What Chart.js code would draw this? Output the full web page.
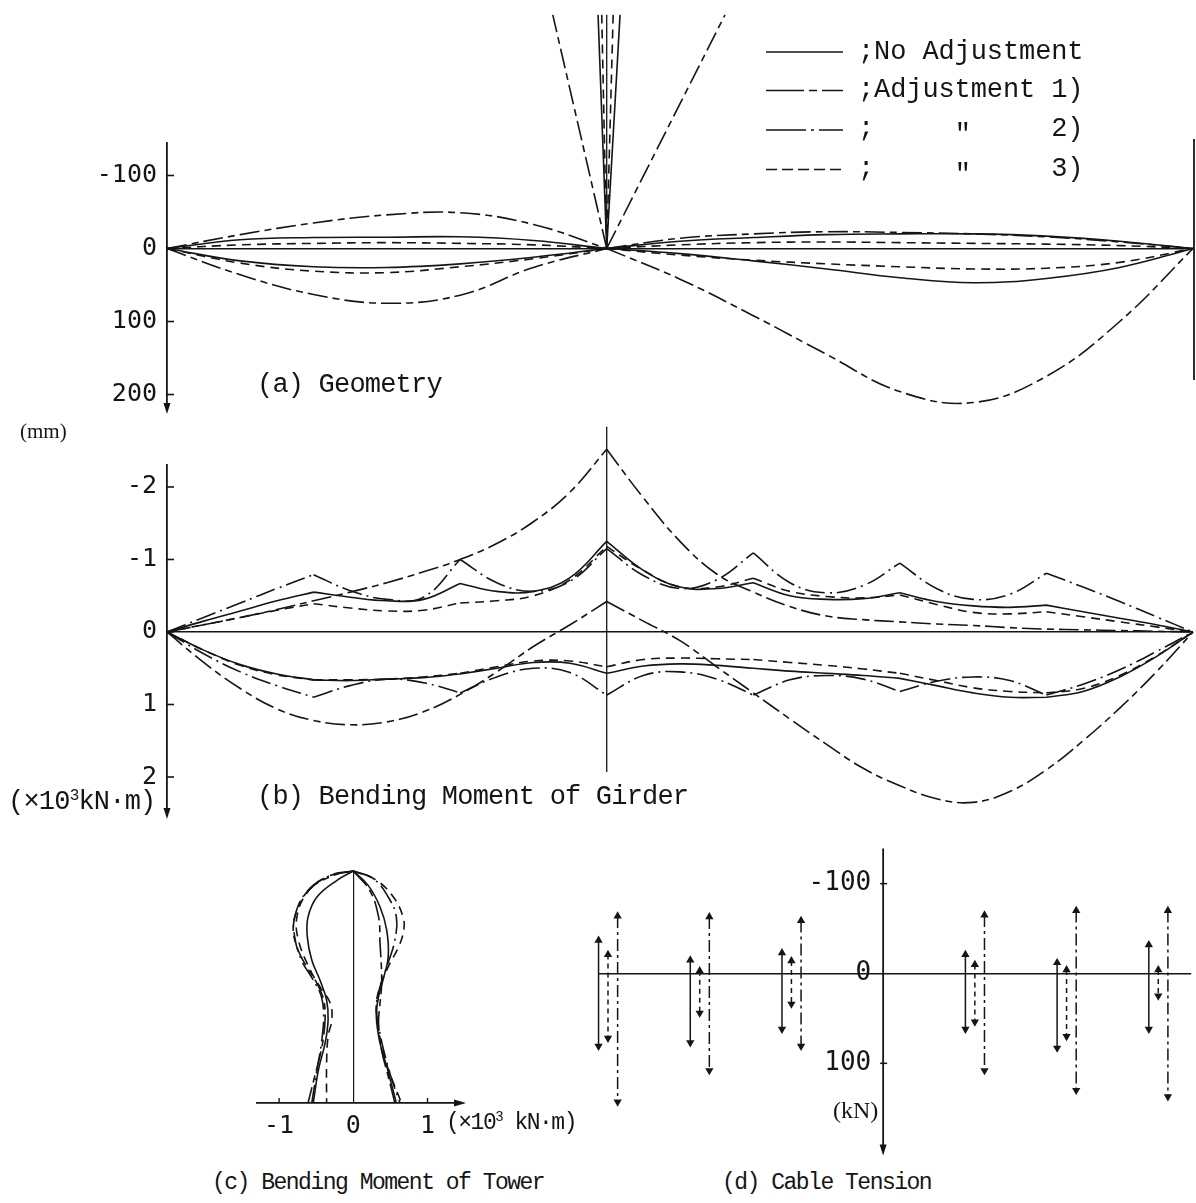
<!DOCTYPE html>
<html lang="en">
<head>
<meta charset="UTF-8">
<title>Effect of cable adjustment</title>
<script src="https://cdn.jsdelivr.net/npm/chart.js"></script>
<style>
  body { margin: 0; background: #fff; }
  #page { position: relative; width: 1196px; height: 1203px; overflow: hidden; background: #fff; }
  canvas { position: absolute; }
  .t { position: absolute; font-family: 'Liberation Mono', 'DejaVu Sans Mono', monospace; font-size: 27px; letter-spacing: -0.8px; line-height: 27px; white-space: pre; color: #151515; }
  .t.lg { letter-spacing: -0.1px; }
  .t.sm { font-size: 23px; letter-spacing: -1.5px; line-height: 23px; }
  .s { position: absolute; font-family: 'Liberation Serif', serif; font-size: 26px; line-height: 26px; white-space: pre; color: #151515; }
  .t sup { font-size: 16px; line-height: 0; vertical-align: 9px; }
  .t.sm sup { font-size: 14px; vertical-align: 8px; }
  .dit { position: relative; top: 6px; }
</style>
</head>
<body>
<div id="page">
  <canvas id="geo" width="1196" height="440" style="left:0;top:0"></canvas>
  <canvas id="mom" width="1196" height="420" style="left:0;top:420px"></canvas>
  <canvas id="tow" width="400" height="320" style="left:200px;top:840px"></canvas>
  <canvas id="cab" width="636" height="340" style="left:560px;top:830px"></canvas>

  <div class="t lg" style="left:858px;top:39px">;No Adjustment</div>
  <div class="t lg" style="left:858px;top:77px">;Adjustment 1)</div>
  <div class="t lg" style="left:858px;top:116px">;     <span class="dit">"</span>     2)</div>
  <div class="t lg" style="left:858px;top:156px">;     <span class="dit">"</span>     3)</div>

  <div class="t" style="left:257px;top:372px">(a) Geometry</div>
  <div class="s" style="left:20px;top:421px;font-size:21px;line-height:21px">(mm)</div>
  <div class="t" style="left:257px;top:784px">(b) Bending Moment of Girder</div>
  <div class="t" style="left:8px;top:789px">(×10<sup>3</sup>kN·m)</div>
  <div class="t sm" style="left:212px;top:1172px">(c) Bending Moment of Tower</div>
  <div class="t sm" style="left:446px;top:1112px">(×10<sup>3</sup> kN·m)</div>
  <div class="s" style="left:833px;top:1098px;font-size:24px;line-height:24px">(kN)</div>
  <div class="t sm" style="left:722px;top:1172px">(d) Cable Tension</div>
</div>

<script>
  const INK = '#151515';
  const TICK_FONT = { family: "'DejaVu Sans Mono', monospace", size: 25 };

  // line styles of the four cases
  const DASH = { noAdj: [], adj1: [20, 5, 7, 5], adj2: [20, 5, 2, 5], adj3: [9, 6] };

  // ---------- (a) Geometry : girder deflection in mm (down = +) ----------
  const towerX = 30;                 // deck position of the tower
  const geoTicks = [-100, 0, 100, 200];
  const geoX = [0, 5, 10, 15, 20, 25, 30, 35, 40, 45, 50, 55, 60, 65, 70];
  const geoNoAdjUp  = [0, -12, -15, -15.5, -16, -11, 0, -10, -15, -19, -20, -20, -17, -10, 0];
  const geoNoAdjLow = [0, 17, 25, 26, 21, 12, 0, 7, 17, 28, 40, 47, 41, 26, 0];
  const geoAdj1Up   = [0, -19, -35, -46, -49, -33, 0, -14, -20, -23, -22, -20, -16, -9, 0];
  const geoAdj1Low  = [0, 36, 63, 75, 64, 26, 0, 42, 92, 145, 196, 211, 175, 100, 0];
  const geoAdj3Up   = [0, -5, -7, -8, -7, -5, 0, -5, -8, -9, -8, -7, -6, -4, 0];
  const geoAdj3Low  = [0, 20, 31, 33, 25, 14, 0, 9, 16, 21, 25, 28, 27, 19, 0];
  // tower sway sketch: top ends of the tower lines
  const towerTopY = -320;
  const towerTopNoAdj = [29.41, 30.91];
  const towerTopAdj1 = [26.32, 38.07];
  const towerTopAdj3 = [29.66, 30.44];

  // ---------- (b) Bending moment of girder (x10^3 kN.m) ----------
  const momTicks = [-2, -1, 0, 1, 2];
  const cableAnchors = [10, 20, 30, 40, 50, 60];
  const momX = [0, 2.5, 5, 7.5, 10, 12.5, 15, 17.5, 20, 22.5, 25, 27.5, 30,
                32.5, 35, 37.5, 40, 42.5, 45, 47.5, 50, 52.5, 55, 57.5, 60, 62.5, 65, 67.5, 70];
  const momNoAdjUp  = [0, -0.15, -0.29, -0.43, -0.55, -0.48, -0.43, -0.45, -0.67, -0.56, -0.56, -0.75, -1.25,
                       -0.85, -0.62, -0.6, -0.68, -0.5, -0.45, -0.46, -0.54, -0.42, -0.36, -0.34, -0.37, -0.28, -0.19, -0.1, 0];
  const momNoAdjLow = [0, 0.25, 0.45, 0.58, 0.66, 0.67, 0.65, 0.63, 0.58, 0.5, 0.42, 0.43, 0.57,
                       0.47, 0.44, 0.46, 0.5, 0.54, 0.57, 0.6, 0.64, 0.74, 0.84, 0.9, 0.9, 0.82, 0.62, 0.34, 0];
  const momAdj1Up   = [0, -0.1, -0.2, -0.31, -0.43, -0.55, -0.68, -0.83, -1.0, -1.22, -1.52, -1.93, -2.52,
                       -1.85, -1.25, -0.8, -0.55, -0.35, -0.22, -0.17, -0.14, -0.11, -0.09, -0.06, -0.04, -0.03, -0.02, -0.01, 0];
  const momAdj1Low  = [0, 0.42, 0.78, 1.06, 1.22, 1.28, 1.24, 1.1, 0.86, 0.55, 0.2, -0.1, -0.42,
                       -0.15, 0.12, 0.48, 0.84, 1.2, 1.55, 1.88, 2.12, 2.3, 2.35, 2.2, 1.9, 1.5, 1.05, 0.55, 0];
  const momAdj2Up   = [0, -0.2, -0.4, -0.6, -0.79, -0.57, -0.45, -0.48, -1.0, -0.68, -0.56, -0.7, -1.15,
                       -0.78, -0.6, -0.72, -1.09, -0.68, -0.54, -0.64, -0.95, -0.6, -0.45, -0.52, -0.81, -0.62, -0.42, -0.21, 0];
  const momAdj2Low  = [0, 0.3, 0.55, 0.74, 0.9, 0.74, 0.65, 0.7, 0.84, 0.62, 0.5, 0.56, 0.87,
                       0.6, 0.55, 0.65, 0.87, 0.66, 0.6, 0.65, 0.82, 0.68, 0.62, 0.67, 0.87, 0.72, 0.52, 0.27, 0];
  const momAdj3Up   = [0, -0.1, -0.2, -0.3, -0.39, -0.33, -0.29, -0.3, -0.4, -0.43, -0.5, -0.72, -1.18,
                       -0.85, -0.62, -0.62, -0.74, -0.56, -0.49, -0.47, -0.51, -0.38, -0.27, -0.25, -0.28, -0.21, -0.14, -0.07, 0];
  const momAdj3Low  = [0, 0.25, 0.46, 0.59, 0.66, 0.66, 0.65, 0.62, 0.57, 0.48, 0.4, 0.4, 0.48,
                       0.38, 0.36, 0.37, 0.38, 0.42, 0.46, 0.51, 0.57, 0.67, 0.77, 0.82, 0.84, 0.78, 0.6, 0.33, 0];
  const momTowerLine = [-2.83, 1.93];

  // ---------- (c) Bending moment of tower : [moment x10^3 kN.m, height] ----------
  const towTicks = [-1, 0, 1];
  const towHeight = [0, 10];
  const towNoAdjNeg = [[0, 10], [-0.22, 9.6], [-0.49, 8.88], [-0.61, 8.02], [-0.62, 7.16], [-0.56, 6.16], [-0.45, 5.3], [-0.36, 4.44], [-0.34, 3.58], [-0.38, 2.58], [-0.47, 1.43], [-0.54, 0]];
  const towNoAdjPos = [[0, 10], [0.2, 9.38], [0.36, 8.45], [0.45, 7.45], [0.47, 6.3], [0.4, 5.3], [0.34, 4.58], [0.31, 3.72], [0.36, 2.58], [0.45, 1.58], [0.58, 0]];
  const towAdj1Neg  = [[0, 10], [-0.27, 9.81], [-0.58, 9.24], [-0.74, 8.45], [-0.81, 7.59], [-0.76, 6.73], [-0.63, 5.87], [-0.49, 5.16], [-0.4, 4.44], [-0.38, 3.72], [-0.4, 2.87], [-0.45, 2.01], [-0.52, 1.15], [-0.61, 0]];
  const towAdj1Pos  = [[0, 10], [0.22, 9.17], [0.34, 8.02], [0.36, 6.88], [0.38, 5.73], [0.38, 5.01], [0.36, 4.3], [0.34, 3.44], [0.38, 2.29], [0.47, 1.15], [0.56, 0]];
  const towAdj2Neg  = [[0, 10], [-0.31, 9.81], [-0.63, 9.1], [-0.79, 8.02], [-0.79, 7.16], [-0.7, 6.16], [-0.54, 5.3], [-0.43, 4.58], [-0.4, 3.72], [-0.43, 2.58], [-0.49, 1.43], [-0.56, 0]];
  const towAdj2Pos  = [[0, 10], [0.27, 9.67], [0.47, 8.88], [0.58, 8.02], [0.56, 7.02], [0.45, 5.87], [0.36, 5.01], [0.31, 4.15], [0.35, 3.15], [0.43, 2.01], [0.52, 1.0], [0.63, 0]];
  const towAdj3Neg  = [[0, 10], [-0.36, 9.74], [-0.63, 9.03], [-0.76, 8.02], [-0.74, 7.02], [-0.58, 5.73], [-0.45, 5.01], [-0.31, 4.3], [-0.29, 3.58], [-0.34, 2.87], [-0.36, 1.72], [-0.36, 0]];
  const towAdj3Pos  = [[0, 10], [0.31, 9.6], [0.54, 8.88], [0.67, 8.02], [0.68, 7.45], [0.61, 6.73], [0.47, 5.87], [0.36, 5.01], [0.31, 4.3], [0.33, 3.44], [0.38, 2.44], [0.49, 1.29], [0.65, 0]];

  // ---------- (d) Cable tension range (kN), cables counted from the tower ----------
  const cabTicks = [-100, 0, 100];
  const cableX = [-3, -2, -1, 1, 2, 3];
  const cabNoAdjMin = [-37, -15, -23, -21, -12, -32];
  const cabNoAdjMax = [81, 77, 62, 62, 83, 62];
  const cabAdj3Min  = [-21, -3, -14, -10, -4, -4];
  const cabAdj3Max  = [72, 44, 34, 54, 70, 25];
  const cabAdj1Min  = [-64, -63, -59, -65, -70, -70];
  const cabAdj1Max  = [143, 108, 81, 108, 130, 137];

  // ---------- helpers ----------
  // splits a sampled curve at kink positions so every piece is smoothed on its own
  function withKinks(xs, ys, kinks) {
    const pts = [];
    xs.forEach((x, i) => {
      pts.push({ x: x, y: ys[i] });
      if (kinks.includes(x) && i > 0 && i < xs.length - 1) {
        pts.push({ x: x, y: null });
        pts.push({ x: x, y: ys[i] });
      }
    });
    return pts;
  }

  function fan(tops) {
    const pts = [];
    tops.forEach((x, i) => {
      if (i) pts.push({ x: towerX, y: null });
      pts.push({ x: towerX, y: 0 }, { x: x, y: towerTopY });
    });
    return pts;
  }

  function line(data, dash, extra) {
    return Object.assign({
      data: data, borderColor: INK, borderWidth: 1.6, borderDash: dash,
      pointRadius: 0, tension: 0.4, showLine: true, spanGaps: false, clip: false, fill: false
    }, extra || {});
  }

  function zeroOnly(ctx) {
    return ctx.tick && ctx.tick.value === 0 ? INK : 'rgba(0,0,0,0)';
  }

  function arrowDown(ctx, x, y) {
    ctx.beginPath();
    ctx.moveTo(x, y);
    ctx.lineTo(x - 3.5, y - 11);
    ctx.lineTo(x + 3.5, y - 11);
    ctx.closePath();
    ctx.fill();
  }

  function baseOptions(padding, scales) {
    return {
      responsive: false,
      animation: false,
      events: [],
      layout: { padding: padding },
      scales: scales,
      elements: { line: { capBezierPoints: false } },
      plugins: { legend: { display: false }, tooltip: { enabled: false } }
    };
  }

  // vertical axis on the left with tick marks pointing into the plot
  function leftAxis(min, max, ticks) {
    return {
      type: 'linear', reverse: true, min: min, max: max,
      afterBuildTicks: s => { s.ticks = ticks.map(v => ({ value: v })); },
      afterFit: s => { s.width = 167; },
      border: { display: true, color: INK, width: 1.8 },
      grid: { drawTicks: false, color: zeroOnly, lineWidth: 1.4 },
      ticks: { font: TICK_FONT, color: INK, padding: 10 }
    };
  }

  const leftAxisMarks = {
    id: 'leftAxisMarks',
    afterDraw(chart) {
      const ctx = chart.ctx, a = chart.chartArea, y = chart.scales.y;
      ctx.save();
      ctx.strokeStyle = INK; ctx.fillStyle = INK; ctx.lineWidth = 1.6;
      y.ticks.forEach(t => {
        const py = y.getPixelForValue(t.value);
        ctx.beginPath(); ctx.moveTo(a.left, py); ctx.lineTo(a.left + 7, py); ctx.stroke();
      });
      arrowDown(ctx, a.left, a.bottom + 4);
      ctx.restore();
    }
  };

  // ---------- (a) ----------
  new Chart(document.getElementById('geo'), {
    type: 'scatter',
    data: {
      datasets: [
        line(withKinks(geoX, geoNoAdjUp, [towerX]), DASH.noAdj),
        line(withKinks(geoX, geoNoAdjLow, [towerX]), DASH.noAdj),
        line(withKinks(geoX, geoAdj1Up, [towerX]), DASH.adj1),
        line(withKinks(geoX, geoAdj1Low, [towerX]), DASH.adj1),
        line(withKinks(geoX, geoAdj3Up, [towerX]), DASH.adj3),
        line(withKinks(geoX, geoAdj3Low, [towerX]), DASH.adj3),
        line(fan([towerX]), DASH.noAdj, { tension: 0, borderWidth: 1.3 }),
        line(fan(towerTopNoAdj), DASH.noAdj, { tension: 0 }),
        line(fan(towerTopAdj1), DASH.adj1, { tension: 0 }),
        line(fan(towerTopAdj3), DASH.adj3, { tension: 0 })
      ]
    },
    options: baseOptions({ left: 0, right: 3, top: 143, bottom: 30 }, {
      x: { type: 'linear', min: 0, max: 70, display: false },
      y: leftAxis(-144.5, 221.2, geoTicks)
    }),
    plugins: [leftAxisMarks, {
      id: 'geoExtras',
      afterDraw(chart) {
        const ctx = chart.ctx, a = chart.chartArea, y = chart.scales.y;
        ctx.save();
        ctx.strokeStyle = INK; ctx.lineWidth = 1.8;
        // right-hand support edge
        ctx.beginPath();
        ctx.moveTo(a.right + 1, y.getPixelForValue(-150));
        ctx.lineTo(a.right + 1, y.getPixelForValue(180));
        ctx.stroke();
        // legend line samples
        const rows = [
          { y: 52, dash: [] },
          { y: 90.5, dash: [38, 5, 8, 5] },
          { y: 130, dash: [40, 5, 3, 5] },
          { y: 169.5, dash: [11, 5] }
        ];
        ctx.lineWidth = 1.7;
        rows.forEach(r => {
          ctx.setLineDash(r.dash);
          ctx.beginPath(); ctx.moveTo(766, r.y); ctx.lineTo(843, r.y); ctx.stroke();
        });
        ctx.restore();
      }
    }]
  });

  // ---------- (b) ----------
  const anchorKinks = cableAnchors;
  new Chart(document.getElementById('mom'), {
    type: 'scatter',
    data: {
      datasets: [
        line(withKinks(momX, momNoAdjUp, anchorKinks), DASH.noAdj),
        line(withKinks(momX, momNoAdjLow, anchorKinks), DASH.noAdj),
        line(withKinks(momX, momAdj1Up, [towerX]), DASH.adj1),
        line(withKinks(momX, momAdj1Low, [towerX]), DASH.adj1),
        line(withKinks(momX, momAdj2Up, anchorKinks), DASH.adj2),
        line(withKinks(momX, momAdj2Low, anchorKinks), DASH.adj2),
        line(withKinks(momX, momAdj3Up, anchorKinks), DASH.adj3),
        line(withKinks(momX, momAdj3Low, anchorKinks), DASH.adj3),
        line(momTowerLine.map(v => ({ x: towerX, y: v })), DASH.noAdj, { tension: 0, borderWidth: 1.3 })
      ]
    },
    options: baseOptions({ left: 0, right: 3, top: 45, bottom: 25 }, {
      x: { type: 'linear', min: 0, max: 70, display: false },
      y: leftAxis(-2.303, 2.524, momTicks)
    }),
    plugins: [leftAxisMarks]
  });

  // ---------- (c) ----------
  const pairs = arr => arr.map(p => ({ x: p[0], y: p[1] }));
  new Chart(document.getElementById('tow'), {
    type: 'scatter',
    data: {
      datasets: [
        line(pairs(towNoAdjNeg), DASH.noAdj),
        line(pairs(towNoAdjPos), DASH.noAdj),
        line(pairs(towAdj1Neg), DASH.adj1),
        line(pairs(towAdj1Pos), DASH.adj1),
        line(pairs(towAdj2Neg), DASH.adj2),
        line(pairs(towAdj2Pos), DASH.adj2),
        line(pairs(towAdj3Neg), DASH.adj3),
        line(pairs(towAdj3Pos), DASH.adj3)
      ]
    },
    options: baseOptions({ left: 57, right: 137, top: 31, bottom: 17 }, {
      x: {
        type: 'linear', position: 'bottom', min: -1.298, max: 1.478,
        afterBuildTicks: s => { s.ticks = towTicks.map(v => ({ value: v })); },
        afterFit: s => { s.height = 40; },
        border: { display: true, color: INK, width: 1.8 },
        grid: { drawTicks: false, color: zeroOnly, lineWidth: 1.2 },
        ticks: { font: TICK_FONT, color: INK, padding: 8 }
      },
      y: { type: 'linear', min: towHeight[0], max: towHeight[1], display: false }
    }),
    plugins: [{
      id: 'towMarks',
      afterDraw(chart) {
        const ctx = chart.ctx, a = chart.chartArea, x = chart.scales.x;
        ctx.save();
        ctx.strokeStyle = INK; ctx.fillStyle = INK; ctx.lineWidth = 1.4;
        towTicks.filter(v => v !== 0).forEach(v => {
          const px = x.getPixelForValue(v);
          ctx.beginPath(); ctx.moveTo(px, a.bottom); ctx.lineTo(px, a.bottom - 5); ctx.stroke();
        });
        ctx.beginPath();
        ctx.moveTo(a.right + 3, a.bottom);
        ctx.lineTo(a.right - 9, a.bottom - 3.5);
        ctx.lineTo(a.right - 9, a.bottom + 3.5);
        ctx.closePath(); ctx.fill();
        ctx.restore();
      }
    }]
  });

  // ---------- (d) ----------
  function arrows(mins, maxs, offset) {
    const pts = [];
    cableX.forEach((x, i) => {
      if (i) pts.push({ x: x + offset, y: null });
      pts.push({ x: x + offset, y: mins[i] }, { x: x + offset, y: maxs[i] });
    });
    return pts;
  }
  const arrowHeads = {
    tension: 0, borderWidth: 1.5,
    pointStyle: 'triangle',
    pointRadius: c => (c.raw && c.raw.y !== null ? 4.8 : 0),
    pointRotation: c => (c.dataIndex % 3 === 0 ? 0 : 180),
    pointBackgroundColor: INK, pointBorderWidth: 0
  };
  // tick labels of the centre axis are anchored a little left of the axis line
  const cabLabelGap = -0.13;
  new Chart(document.getElementById('cab'), {
    type: 'scatter',
    data: {
      datasets: [
        line(arrows(cabNoAdjMin, cabNoAdjMax, -0.103), DASH.noAdj, arrowHeads),
        line(arrows(cabAdj3Min, cabAdj3Max, 0), [5, 4], arrowHeads),
        line(arrows(cabAdj1Min, cabAdj1Max, 0.105), [12, 4, 3, 4], arrowHeads)
      ]
    },
    options: baseOptions({ left: 38, right: 1, top: 18, bottom: 13 }, {
      x: { type: 'linear', min: -3.109, max: 3.359, display: false },
      y: {
        type: 'linear', position: { x: cabLabelGap }, reverse: true, min: -139, max: 198,
        afterBuildTicks: s => { s.ticks = cabTicks.map(v => ({ value: v })); },
        border: { display: false },
        grid: { drawTicks: false, color: zeroOnly, lineWidth: 1.6 },
        ticks: { font: { family: TICK_FONT.family, size: 26 }, color: INK }
      }
    }),
    plugins: [{
      id: 'cabMarks',
      afterDraw(chart) {
        const ctx = chart.ctx, a = chart.chartArea, x = chart.scales.x, y = chart.scales.y;
        const x0 = x.getPixelForValue(0);
        ctx.save();
        ctx.strokeStyle = INK; ctx.fillStyle = INK; ctx.lineWidth = 1.8;
        ctx.beginPath(); ctx.moveTo(x0, a.top); ctx.lineTo(x0, a.bottom); ctx.stroke();
        ctx.lineWidth = 1.5;
        cabTicks.filter(v => v !== 0).forEach(v => {
          const py = y.getPixelForValue(v);
          ctx.beginPath(); ctx.moveTo(x0 - 3, py); ctx.lineTo(x0 + 4, py); ctx.stroke();
        });
        arrowDown(ctx, x0, a.bottom + 4);
        ctx.restore();
      }
    }]
  });
</script>
</body>
</html>
